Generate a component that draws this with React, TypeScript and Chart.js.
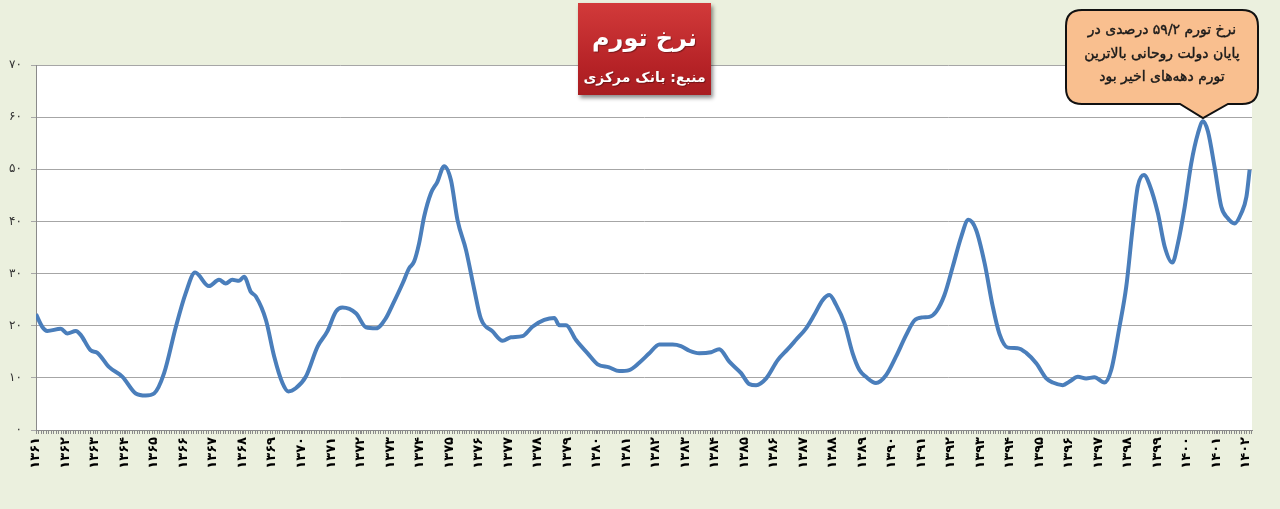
import React, { useEffect, useRef } from 'react';
import { Chart, registerables } from 'chart.js';

Chart.register(...registerables);

// Position on the time axis (Persian solar year, fractional) and inflation rate (%)
const yearPos: number[] = [
  1361.00, 1361.21, 1361.38, 1361.84, 1362.06, 1362.35, 1362.52, 1362.85, 1363.08, 1363.47,
  1363.93, 1364.38, 1364.72, 1365.00, 1365.34, 1365.74, 1366.07, 1366.39, 1366.86, 1367.20,
  1367.43, 1367.65, 1367.88, 1368.05, 1368.28, 1368.45, 1368.79, 1369.07, 1369.35, 1369.55,
  1369.80, 1370.14, 1370.54, 1370.87, 1371.16, 1371.38, 1371.84, 1372.18, 1372.52, 1372.85,
  1373.08, 1373.42, 1373.64, 1373.81, 1373.98, 1374.15, 1374.38, 1374.60, 1374.83, 1375.06,
  1375.28, 1375.57, 1375.85, 1376.07, 1376.47, 1376.81, 1377.09, 1377.48, 1377.82, 1378.22,
  1378.56, 1378.73, 1378.96, 1379.29, 1379.69, 1380.03, 1380.42, 1380.76, 1381.10, 1381.44,
  1381.78, 1382.12, 1382.57, 1382.85, 1383.14, 1383.47, 1383.87, 1384.15, 1384.49, 1384.89,
  1385.17, 1385.40, 1385.74, 1386.13, 1386.47, 1386.75, 1387.09, 1387.37, 1387.65, 1387.88,
  1388.11, 1388.39, 1388.67, 1388.90, 1389.12, 1389.46, 1389.80, 1390.14, 1390.48, 1390.76,
  1391.04, 1391.27, 1391.50, 1391.78, 1392.06, 1392.35, 1392.59, 1392.85, 1393.14, 1393.42,
  1393.64, 1393.93, 1394.26, 1394.55, 1394.89, 1395.23, 1395.45, 1395.79, 1396.02, 1396.30,
  1396.58, 1396.86, 1397.20, 1397.43, 1397.71, 1397.94, 1398.16, 1398.33, 1398.54, 1398.73,
  1399.01, 1399.24, 1399.50, 1399.69, 1399.92, 1400.14, 1400.37, 1400.54, 1400.71, 1400.93,
  1401.16, 1401.38, 1401.61, 1401.84, 1402.01, 1402.12,
];

const inflationRate: number[] = [
  22.2, 19.8, 19.0, 19.4, 18.5, 19.0, 18.2, 15.3, 14.8, 12.1,
  10.2, 7.0, 6.6, 7.0, 10.9, 19.8, 26.2, 30.2, 27.6, 28.8,
  28.1, 28.8, 28.6, 29.4, 26.5, 25.6, 21.1, 14.1, 9.0, 7.4,
  8.0, 10.2, 16.0, 18.9, 22.7, 23.5, 22.4, 19.7, 19.5, 21.4,
  24.0, 28.1, 31.0, 32.3, 35.8, 40.9, 45.4, 47.6, 50.6, 47.9,
  40.3, 34.5, 26.9, 21.4, 18.9, 17.1, 17.8, 18.0, 19.8, 21.1,
  21.5, 20.1, 20.1, 17.3, 14.7, 12.6, 12.0, 11.3, 11.5, 12.9,
  14.7, 16.4, 16.4, 16.1, 15.2, 14.7, 14.9, 15.5, 13.1, 10.9,
  8.8, 8.6, 9.9, 13.4, 15.5, 17.3, 19.5, 22.1, 24.9, 25.9,
  24.0, 20.5, 14.7, 11.5, 10.2, 9.0, 10.5, 14.1, 18.2, 21.0,
  21.6, 21.7, 22.7, 25.9, 31.3, 37.1, 40.3, 38.4, 32.0, 23.6,
  18.5, 15.8, 15.7, 14.8, 12.8, 9.9, 9.1, 8.6, 9.3, 10.2,
  9.9, 10.1, 9.1, 11.5, 19.8, 27.5, 39.0, 46.7, 48.9, 47.0,
  41.6, 35.2, 32.1, 35.8, 42.8, 51.1, 56.9, 59.2, 57.2, 50.5,
  42.8, 40.6, 39.6, 41.6, 44.7, 49.9,
];

const firstYear = 1361;
const lastYear = 1402;
const axisEnd = 1402.2;
const yTickValues: number[] = [0, 10, 20, 30, 40, 50, 60, 70];

const titleText = 'نرخ تورم';
const sourceText = 'منبع: بانک مرکزی';
const calloutLines: string[] = [
  'نرخ تورم ۵۹/۲ درصدی در',
  'پایان دولت روحانی بالاترین',
  'تورم دهه‌های اخیر بود',
];

const persianDigits = '۰۱۲۳۴۵۶۷۸۹';
const toPersian = (s: string) => s.replace(/[0-9]/g, (d) => persianDigits[Number(d)]);

const plotDecor = {
  id: 'plotDecor',
  beforeDraw(chart: any) {
    const { ctx, chartArea } = chart;
    ctx.save();
    ctx.fillStyle = '#ffffff';
    ctx.fillRect(chartArea.left, chartArea.top, chartArea.right - chartArea.left, chartArea.bottom - chartArea.top);
    ctx.restore();
  },
  afterDraw(chart: any) {
    const { ctx, chartArea } = chart;
    const xs = chart.scales.x;
    ctx.save();
    ctx.strokeStyle = '#8a8a8a';
    ctx.lineWidth = 1;
    ctx.beginPath();
    for (let m = 0; ; m++) {
      const v = firstYear + m / 12;
      if (v > axisEnd) break;
      const px = Math.round(xs.getPixelForValue(v)) + 0.5;
      ctx.moveTo(px, chartArea.bottom);
      ctx.lineTo(px, chartArea.bottom + 4);
    }
    ctx.stroke();
    ctx.restore();
  },
};

export default function App() {
  const canvasRef = useRef<HTMLCanvasElement | null>(null);

  useEffect(() => {
    if (!canvasRef.current) return;
    const data = yearPos.map((x, i) => ({ x, y: inflationRate[i] }));
    const chart = new Chart(canvasRef.current, {
      type: 'line',
      data: {
        datasets: [
          {
            data,
            borderColor: '#4A7EBB',
            borderWidth: 4,
            pointRadius: 0,
            fill: false,
            cubicInterpolationMode: 'monotone',
          },
        ],
      },
      options: {
        animation: false,
        responsive: false,
        events: [],
        layout: { padding: { top: 65, right: 28, left: 0, bottom: 0 } },
        plugins: { legend: { display: false }, tooltip: { enabled: false }, title: { display: false } },
        scales: {
          x: {
            type: 'linear',
            min: firstYear,
            max: axisEnd,
            afterFit: (scale: any) => {
              scale.height = 79;
            },
            border: { display: true, color: '#8a8a8a', width: 1 },
            grid: { display: true, drawOnChartArea: false, drawTicks: true, tickLength: 4, color: '#8a8a8a' },
            ticks: {
              stepSize: 1,
              includeBounds: false,
              autoSkip: false,
              minRotation: 90,
              maxRotation: 90,
              padding: 3,
              color: '#000000',
              font: { family: '"DejaVu Sans", sans-serif', size: 13, weight: 'bold' },
              callback: (v: any) => {
                const n = Number(v);
                if (Math.abs(n - Math.round(n)) > 1e-6 || n > lastYear) return '';
                return toPersian(String(Math.round(n)));
              },
            },
          },
          y: {
            min: yTickValues[0],
            max: yTickValues[yTickValues.length - 1],
            afterFit: (scale: any) => {
              scale.width = 36;
            },
            border: { display: true, color: '#8a8a8a', width: 1 },
            grid: { color: '#a6a6a6', lineWidth: 1, tickLength: 5, drawTicks: true },
            ticks: {
              stepSize: 10,
              padding: 9,
              color: '#333333',
              font: { family: '"DejaVu Sans", sans-serif', size: 12 },
              callback: (v: any) => toPersian(String(v)),
            },
          },
        },
      },
      plugins: [plotDecor],
    } as any);
    return () => chart.destroy();
  }, []);

  return (
    <div
      style={{
        position: 'fixed',
        left: 0,
        top: 0,
        width: 1280,
        height: 509,
        background: '#EBF0DE',
        overflow: 'hidden',
      }}
    >
      <canvas ref={canvasRef} width={1280} height={509} style={{ position: 'absolute', left: 0, top: 0 }} />
      <div
        dir="rtl"
        style={{
          position: 'absolute',
          left: 578,
          top: 3,
          width: 133,
          height: 92,
          background: 'linear-gradient(#D23A3A, #B52226 70%, #A81D21)',
          boxShadow: '2px 3px 4px rgba(0,0,0,0.45)',
          color: '#ffffff',
          fontFamily: '"DejaVu Sans", sans-serif',
          fontWeight: 'bold',
          textAlign: 'center',
          whiteSpace: 'nowrap',
        }}
      >
        <div style={{ fontSize: 24, lineHeight: '30px', marginTop: 20, textShadow: '1px 1px 1px rgba(0,0,0,0.35)' }}>{titleText}</div>
        <div style={{ fontSize: 14, lineHeight: '22px', marginTop: 13, textShadow: '1px 1px 1px rgba(0,0,0,0.35)' }}>{sourceText}</div>
      </div>
      <svg
        width={1280}
        height={509}
        style={{ position: 'absolute', left: 0, top: 0, pointerEvents: 'none' }}
      >
        <path
          d="M 1082 10 H 1242 Q 1258 10 1258 26 V 88 Q 1258 104 1242 104 H 1228 L 1203 118 L 1180 104 H 1082 Q 1066 104 1066 88 V 26 Q 1066 10 1082 10 Z"
          fill="#F9BF8F"
          stroke="#111111"
          strokeWidth={2}
        />
      </svg>
      <div
        dir="rtl"
        style={{
          position: 'absolute',
          left: 1066,
          top: 18,
          width: 192,
          textAlign: 'center',
          fontFamily: '"DejaVu Sans", sans-serif',
          fontSize: 14,
          lineHeight: '23.5px',
          color: '#1a1a1a',
          whiteSpace: 'nowrap',
          WebkitTextStroke: '0.4px #1a1a1a',
        }}
      >
        {calloutLines.map((l, i) => (
          <div key={i}>{l}</div>
        ))}
      </div>
    </div>
  );
}
